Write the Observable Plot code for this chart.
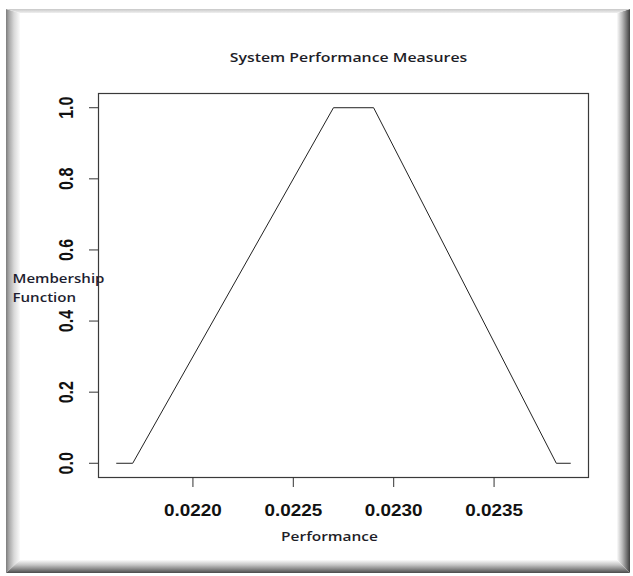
<!DOCTYPE html>
<html>
<head>
<meta charset="utf-8">
<script src="https://cdn.jsdelivr.net/npm/d3@7"></script>
<script src="https://cdn.jsdelivr.net/npm/@observablehq/plot@0.6"></script>
<style>
  html, body { margin: 0; padding: 0; background: #fff; }
  #wrap { position: relative; width: 633px; height: 576px; overflow: hidden; background: #fff; }
  .bevel { position: absolute; left: 6px; top: 9px; width: 624px; height: 564px; }
  #inner { position: absolute; left: 20px; top: 13px; width: 597px; height: 547px; background: #fff; }
  #chart { position: absolute; left: 0; top: 0; }
</style>
</head>
<body>
<div id="wrap">
  <div class="bevel" style="background: linear-gradient(to right, #7c7c7c 0px, #a8a8a8 3px, #d8d8d8 8px, #fbfbfb 14px); clip-path: polygon(0px 0px, 14px 4px, 14px 551px, 0px 564px);"></div>
  <div class="bevel" style="background: linear-gradient(to left, #3c3c3c 0px, #6e6e6e 3px, #bdbdbd 8px, #fbfbfb 13px); clip-path: polygon(624px 0px, 611px 4px, 611px 551px, 624px 564px);"></div>
  <div class="bevel" style="background: linear-gradient(to bottom, #c8c8c8 0px, #efefef 4px); clip-path: polygon(0px 0px, 624px 0px, 611px 4px, 14px 4px);"></div>
  <div class="bevel" style="background: linear-gradient(to top, #4a4a4a 0px, #7a7a7a 3px, #c4c4c4 8px, #fbfbfb 13px); clip-path: polygon(0px 564px, 14px 551px, 611px 551px, 624px 564px);"></div>
  <div id="inner"></div>
  <div id="chart"></div>
</div>
<script>
// ---- data ----
const performance = [0.02162, 0.0217, 0.0227, 0.0229, 0.02381, 0.02388];
const membership  = [0, 0, 1, 1, 0, 0];

const xTicks = [0.0220, 0.0225, 0.0230, 0.0235];
const xTickLabels = ["0.0220", "0.0225", "0.0230", "0.0235"];
const yTicks = [0, 0.2, 0.4, 0.6, 0.8, 1.0];
const yTickLabels = ["0.0", "0.2", "0.4", "0.6", "0.8", "1.0"];

const titleText = "System Performance Measures";
const xLabel = "Performance";
const yLabel = "Membership\nFunction";

const points = performance.map((p, i) => ({performance: p, membership: membership[i]}));

// R-style 4% padding of the data range
const xMin = d3.min(performance), xMax = d3.max(performance);
const xPad = (xMax - xMin) * 0.04;
const yMin = d3.min(membership), yMax = d3.max(membership);
const yPad = (yMax - yMin) * 0.04;

const tickFont = "'Liberation Sans', Arial, sans-serif";
const labelFont = "'Open Sans', 'Noto Sans', sans-serif";

const chart = Plot.plot({
  width: 633,
  height: 576,
  marginLeft: 98,
  marginRight: 45,
  marginTop: 93,
  marginBottom: 99,
  style: {background: "transparent", overflow: "visible"},
  x: {domain: [xMin - xPad, xMax + xPad], axis: null},
  y: {domain: [yMin - yPad, yMax + yPad], axis: null},
  marks: [
    Plot.frame({stroke: "#3a3a3a", strokeWidth: 1.2}),
    Plot.axisX({ticks: xTicks, tickSize: 10, tickFormat: () => "", stroke: "#333", label: null}),
    Plot.axisY({ticks: yTicks, tickSize: 9, tickFormat: () => "", stroke: "#333", label: null}),
    Plot.text(xTicks, {
      x: d => d, text: (d, i) => xTickLabels[i], frameAnchor: "bottom", dy: 33,
      textAnchor: "middle", lineAnchor: "middle",
      fontSize: 16, fontWeight: "bold", fontFamily: tickFont, fill: "#111"
    }),
    Plot.text(yTicks, {
      y: d => d, text: (d, i) => yTickLabels[i], frameAnchor: "left", dx: -32, rotate: -90,
      textAnchor: "middle", lineAnchor: "middle",
      fontSize: 16, fontWeight: "bold", fontFamily: tickFont, fill: "#111"
    }),
    Plot.line(points, {x: "performance", y: "membership", stroke: "#222", strokeWidth: 1}),
    Plot.text([titleText], {
      frameAnchor: "top", dy: -36, dx: 5, textAnchor: "middle", lineAnchor: "middle",
      fontSize: 13, fontWeight: 600, fontFamily: labelFont, fill: "#1e1e28"
    }),
    Plot.text([xLabel], {
      frameAnchor: "bottom", dy: 59, dx: -14, textAnchor: "middle", lineAnchor: "middle",
      fontSize: 13, fontWeight: 600, fontFamily: labelFont, fill: "#1e1e28"
    }),
    Plot.text([yLabel], {
      frameAnchor: "left", dx: -86, dy: 1, textAnchor: "start", lineAnchor: "middle", lineHeight: 1.45,
      fontSize: 13, fontWeight: 600, fontFamily: labelFont, fill: "#1e1e30"
    })
  ]
});

// the reference image is stretched horizontally; mimic it on the text
const stretchX = new Map([
  [titleText, 1.22],
  [xLabel, 1.19],
  [yLabel.replace("\n", ""), 1.16],
  ...xTickLabels.map(s => [s, 1.18])
]);
const yLabelSet = new Set(yTickLabels);
d3.select(chart).selectAll("text").each(function() {
  const content = this.textContent;
  const t = this.getAttribute("transform") || "";
  if (this.closest('g[aria-label="text"]') == null && !this.closest("g")) return;
  if (yLabelSet.has(content) && /rotate/.test(t)) {
    this.setAttribute("transform", t + " scale(1,1.25)");
  } else if (stretchX.has(content)) {
    this.setAttribute("transform", t + ` scale(${stretchX.get(content)},1)`);
  }
});

document.getElementById("chart").appendChild(chart);
</script>
</body>
</html>
